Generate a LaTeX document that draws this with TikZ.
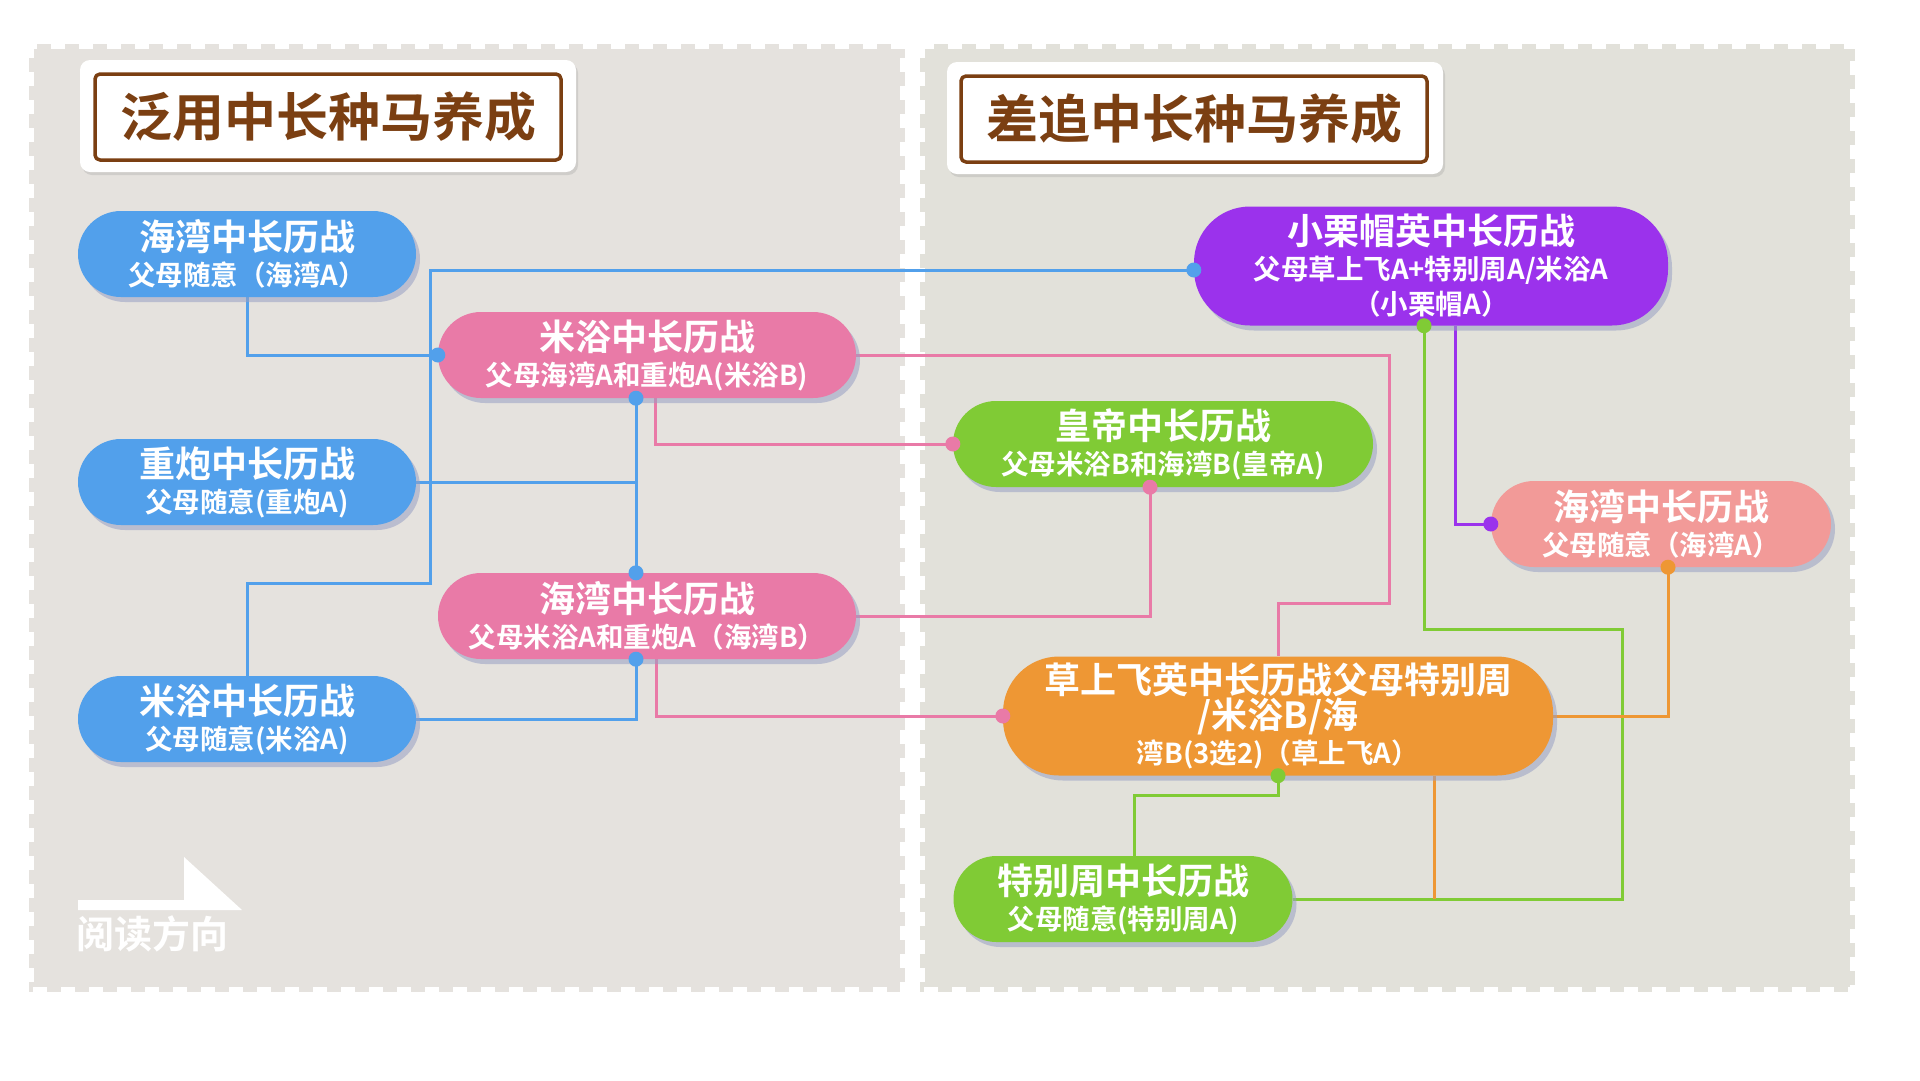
\documentclass[tikz,border=0pt]{standalone}
\usepackage{fontspec}
\setmainfont{Noto Sans CJK SC}[BoldFont=* Bold]
\usetikzlibrary{shadows,backgrounds,calc}
\definecolor{cblue}{HTML}{52A0EB}
\definecolor{cpink}{HTML}{E97AA7}
\definecolor{cpurple}{HTML}{9B32EC}
\definecolor{cgreen}{HTML}{80CB35}
\definecolor{csalmon}{HTML}{F29A98}
\definecolor{corange}{HTML}{EE9734}
\definecolor{cbrown}{HTML}{7B3F12}
\definecolor{lpan}{HTML}{E5E2DE}
\definecolor{rpan}{HTML}{E2E1DA}
\definecolor{shd}{HTML}{98A0C4}
\newcommand\headf{\fontsize{36}{40}\selectfont\bfseries}
\newcommand\subf{\fontsize{27.5}{35}\selectfont\bfseries}
\newcommand\titf{\fontsize{52}{56}\selectfont\bfseries}

\begin{document}
\begin{tikzpicture}[x=1pt,y=-1pt,line join=round]
\tikzstyle{n}=[rounded corners=43pt,minimum height=86pt,inner sep=0pt,align=center,text=white,font=\subf,drop shadow={shadow xshift=4pt,shadow yshift=-5pt,fill=shd,opacity=.55}]
\tikzstyle{tall}=[rounded corners=56pt,minimum height=119pt]
\tikzstyle{ln}=[line width=3pt]
\tikzstyle{tb}=[fill=white,rounded corners=10pt,minimum width=496pt,minimum height=112pt,drop shadow={shadow xshift=2pt,shadow yshift=-3pt,fill=black!35,opacity=.35}]
\tikzstyle{th}=[draw=cbrown,line width=3.5pt,rounded corners=5pt,minimum width=466pt,minimum height=86pt,font=\titf,text=cbrown]
\useasboundingbox (0,0) rectangle (1920,1080);
\node[tb] (t1) at (328,116) {};
\node[th] (h1) at (328,117) {泛用中长种马养成};
\node[tb] (t2) at (1195,118) {};
\node[th] (h2) at (1194,119) {差追中长种马养成};
\node[n,fill=cblue,minimum width=338pt] (n1) at (247,254) {{\headf 海湾中长历战}\\父母随意（海湾A）};
\node[n,fill=cblue,minimum width=338pt] (n2) at (247,482) {{\headf 重炮中长历战}\\父母随意(重炮A)};
\node[n,fill=cblue,minimum width=338pt] (n3) at (247,719) {{\headf 米浴中长历战}\\父母随意(米浴A)};
\node[n,fill=cpink,minimum width=418pt] (n4) at (647,355) {{\headf 米浴中长历战}\\父母海湾A和重炮A(米浴B)};
\node[n,fill=cpink,minimum width=418pt] (n5) at (647,616) {{\headf 海湾中长历战}\\父母米浴A和重炮A（海湾B）};
\node[n,tall,fill=cpurple,minimum width=474pt] (n6) at (1431,266) {{\headf 小栗帽英中长历战}\\父母草上飞A+特别周A/米浴A\\（小栗帽A）};
\node[n,fill=cgreen,minimum width=420pt] (n7) at (1163,444) {{\headf 皇帝中长历战}\\父母米浴B和海湾B(皇帝A)};
\node[n,fill=csalmon,minimum width=340pt] (n8) at (1661,524) {{\headf 海湾中长历战}\\父母随意（海湾A）};
\node[n,tall,fill=corange,minimum width=550pt] (n9) at (1278,716) {{\headf 草上飞英中长历战父母特别周}\\{\headf /米浴B/海}\\湾B(3选2)（草上飞A）};
\node[n,fill=cgreen,minimum width=339pt] (n10) at (1123,899) {{\headf 特别周中长历战}\\父母随意(特别周A)};
\fill[white] (78,900) -- (184,900) -- (184,857) -- (242,910) -- (78,910) -- cycle;
\node[text=white,font=\fontsize{38}{40}\selectfont\bfseries,anchor=west,inner sep=0pt] (rd) at (76,934) {阅读方向};
\coordinate (b4s) at ([xshift=-11pt]n4.south);
\coordinate (b5n) at ([xshift=-11pt]n5.north);
\coordinate (b5s) at ([xshift=-11pt]n5.south);
\coordinate (b6w) at ([yshift=-4pt]n6.west);
\coordinate (p4s) at ([xshift=8pt]n4.south);
\coordinate (p5s) at ([xshift=9pt]n5.south);
\coordinate (p7s) at ([xshift=-13pt]n7.south);
\coordinate (v6s) at ([xshift=24pt]n6.south);
\coordinate (g6s) at ([xshift=-7pt]n6.south);
\coordinate (o8s) at ([xshift=7pt]n8.south);
\coordinate (o9s) at ([xshift=156pt]n9.south);
\coordinate (g10n) at ([xshift=11pt]n10.north);
\begin{scope}[on background layer]
\fill[lpan] (29,44) rectangle (905,992);
\draw[white,line width=10pt,dash pattern=on 14pt off 14pt] (29,44) rectangle (905,992);
\fill[rpan] (920,44) rectangle (1855,992);
\draw[white,line width=10pt,dash pattern=on 14pt off 14pt] (920,44) rectangle (1855,992);
\draw[ln,cblue] (n1.south) |- (n4.west);
\draw[ln,cblue] (n3.north) |- (430,583) |- (b6w);
\draw[ln,cblue] (b4s) -- (b5n);
\draw[ln,cblue] (n2.east) -- (n2.east -| b4s);
\draw[ln,cblue] (n3.east) -| (b5s);
\draw[ln,cpink] (n4.east) -| (1389,603) -| (n9.north);
\draw[ln,cpink] (p4s) |- (n7.west);
\draw[ln,cpink] (n5.east) -| (p7s);
\draw[ln,cpink] (p5s) |- (n9.west);
\draw[ln,cpurple] (v6s) |- (n8.west);
\draw[ln,cgreen] (g6s) |- (1622,629) |- (n10.east);
\draw[ln,cgreen] (n9.south) -- ++(0,20) -| (g10n);
\draw[ln,corange] (o8s) |- (n9.east);
\draw[ln,corange] (o9s) -- (o9s |- n10.east);
\end{scope}
\foreach \c in {n4.west,b6w,b4s,b5n,b5s} \fill[cblue] (\c) circle (7.5pt);
\foreach \c in {n7.west,p7s,n9.west} \fill[cpink] (\c) circle (7.5pt);
\foreach \c in {g6s,n9.south} \fill[cgreen] (\c) circle (7.5pt);
\fill[cpurple] (n8.west) circle (7.5pt);
\fill[corange] (o8s) circle (7.5pt);
\end{tikzpicture}
\end{document}
